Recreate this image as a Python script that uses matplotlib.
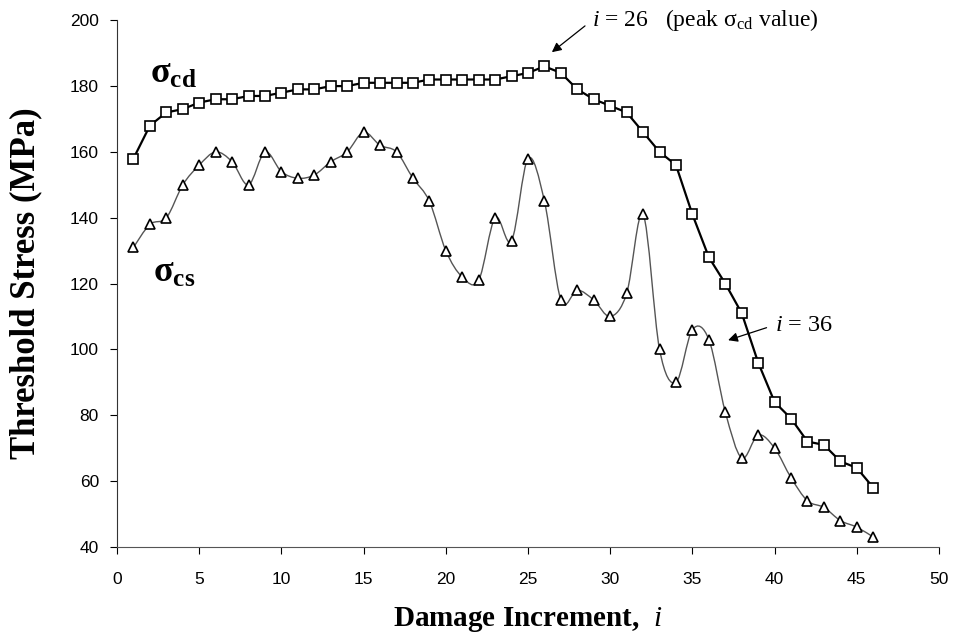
import numpy as np
import matplotlib
matplotlib.use("Agg")
import matplotlib.pyplot as plt
from matplotlib.path import Path
from matplotlib.patches import PathPatch

plt.rcParams['mathtext.fontset'] = 'custom'
plt.rcParams['mathtext.rm'] = 'Liberation Serif'
plt.rcParams['mathtext.it'] = 'Liberation Serif:italic'
plt.rcParams['mathtext.bf'] = 'Liberation Serif:bold'

# data
increment = list(range(1, 47))
sigma_cd = [158, 168, 172, 173, 175, 176, 176, 177, 177, 178, 179, 179, 180, 180, 181, 181,
            181, 181, 182, 182, 182, 182, 182, 183, 184, 186, 184, 179, 176, 174, 172, 166,
            160, 156, 141, 128, 120, 111, 96, 84, 79, 72, 71, 66, 64, 58]
sigma_cs = [131, 138, 140, 150, 156, 160, 157, 150, 160, 154, 152, 153, 157, 160, 166, 162,
            160, 152, 145, 130, 122, 121, 140, 133, 158, 145, 115, 118, 115, 110, 117, 141,
            100, 90, 106, 103, 81, 67, 74, 70, 61, 54, 52, 48, 46, 43]
x_ticks = [0, 5, 10, 15, 20, 25, 30, 35, 40, 45, 50]
y_ticks = [40, 60, 80, 100, 120, 140, 160, 180, 200]


def smooth_path(x, y, t=1/6):
    # Catmull-Rom style bezier through the points (like Excel's smoothed line)
    x = np.asarray(x, float)
    y = np.asarray(y, float)
    verts = [(x[0], y[0])]
    codes = [Path.MOVETO]
    n = len(x)
    for k in range(n - 1):
        p0 = (x[max(k - 1, 0)], y[max(k - 1, 0)])
        p1 = (x[k], y[k])
        p2 = (x[k + 1], y[k + 1])
        p3 = (x[min(k + 2, n - 1)], y[min(k + 2, n - 1)])
        c1 = (p1[0] + (p2[0] - p0[0]) * t, p1[1] + (p2[1] - p0[1]) * t)
        c2 = (p2[0] - (p3[0] - p1[0]) * t, p2[1] - (p3[1] - p1[1]) * t)
        verts += [c1, c2, p2]
        codes += [Path.CURVE4] * 3
    return Path(verts, codes)


fig = plt.figure(figsize=(9.57, 6.33), dpi=100)
ax = fig.add_axes([0.1223, 0.136, 0.8589, 0.832])

ax.plot(increment, sigma_cd, color='black', linewidth=1.6, marker='s', markersize=6.5,
        markerfacecolor='white', markeredgecolor='black', markeredgewidth=1.2, zorder=3)

ax.add_patch(PathPatch(smooth_path(increment, sigma_cs), facecolor='none',
                       edgecolor='#555555', linewidth=1.0, zorder=2))
ax.plot(increment, sigma_cs, linestyle='none', marker='^', markersize=6.5,
        markerfacecolor='white', markeredgecolor='black', markeredgewidth=1.2, zorder=3)

ax.set_xlim(0, 50)
ax.set_ylim(40, 200)
ax.set_xticks(x_ticks)
ax.set_yticks(y_ticks)
for sp in ['top', 'right']:
    ax.spines[sp].set_visible(False)
ax.spines['left'].set_color('#333333')
ax.spines['bottom'].set_color('#555555')
ax.tick_params(direction='out', length=5, width=0.8, labelsize=12.5)
ax.tick_params(axis='x', pad=13)
ax.tick_params(axis='y', pad=8)
for lab in ax.get_xticklabels() + ax.get_yticklabels():
    lab.set_fontfamily('Liberation Sans')

ax.set_ylabel('Threshold Stress (MPa)', fontfamily='Liberation Serif', fontweight='bold',
              fontsize=25, labelpad=20)
ax.set_xlabel(r'Damage Increment,  $\mathbf{\mathit{i}}$', fontfamily='Liberation Serif',
              fontweight='bold', fontsize=21, labelpad=13)

ax.text(2.0, 184, r'$\mathbf{σ_{cd}}$', fontsize=26, va='center', ha='left')
ax.text(2.2, 123.5, r'$\mathbf{σ_{cs}}$', fontsize=26, va='center', ha='left')

ax.annotate(r'$\mathit{i}$ = 26   (peak $\mathrm{σ_{cd}}$ value)', xy=(26.45, 190.3),
            xytext=(28.9, 200), fontsize=17, fontfamily='Liberation Serif',
            va='center', ha='left', annotation_clip=False,
            arrowprops=dict(arrowstyle='-|>', color='black', lw=0.9, shrinkA=4, shrinkB=0,
                            relpos=(0, 0.5), mutation_scale=14))
ax.annotate(r'$\mathit{i}$ = 36', xy=(37.17, 102.8), xytext=(40.0, 107.4), fontsize=17.5,
            fontfamily='Liberation Serif', va='center', ha='left',
            arrowprops=dict(arrowstyle='-|>', color='black', lw=0.9, shrinkA=4, shrinkB=0,
                            relpos=(0, 0.5), mutation_scale=14))

plt.savefig('out.png', dpi=100)
